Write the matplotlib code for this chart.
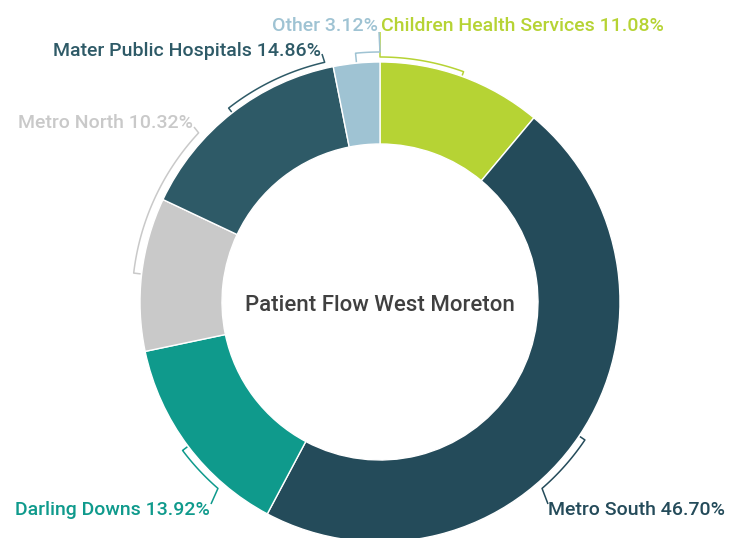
import numpy as np
import matplotlib
matplotlib.use("Agg")
import matplotlib.pyplot as plt

labels = ["Children Health Services", "Metro South", "Darling Downs",
          "Metro North", "Mater Public Hospitals", "Other"]
values = [11.08, 46.70, 13.92, 10.32, 14.86, 3.12]
colors = ["#b6d334", "#244b5a", "#0f9a8c", "#c9c9c9", "#2e5a67", "#9fc3d3"]
title = "Patient Flow West Moreton"

# layout (pixel-ish coordinates, y up)
W, H = 741, 538
cx, cy = 380, 236
R, r_in = 240, 158
# per label: bracket radius, label-end angle, connector end point, text baseline pos, ha
layout = [
    dict(rb=245, a_end=90,   conn=(380, 506), txt=(381, 507), ha="left"),
    dict(rb=247, a_end=-49,  conn=(548, 34),  txt=(548, 23),  ha="left"),
    dict(rb=247, a_end=-131, conn=(211, 34),  txt=(210, 23),  ha="right"),
    dict(rb=248, a_end=137,  conn=(194, 411), txt=(193, 410), ha="right"),
    dict(rb=246, a_end=103,  conn=(322, 484), txt=(321, 482), ha="right"),
    dict(rb=250, a_end=90,   conn=(379, 506), txt=(378, 507), ha="right"),
]

plt.rcParams["font.family"] = ["Roboto", "DejaVu Sans"]
fig = plt.figure(figsize=(W / 100, H / 100), dpi=100)
ax = fig.add_axes([0, 0, 1, 1])

ax.pie(values, colors=colors, startangle=90, counterclock=False,
       center=(cx, cy), radius=R, frame=True,
       wedgeprops=dict(width=R - r_in, edgecolor="white", linewidth=1.0))
ax.set_xlim(0, W)
ax.set_ylim(0, H)
ax.set_aspect("equal")
ax.axis("off")

ax.text(cx, 227, title, ha="center", va="baseline", fontsize=16,
        color="#404040", fontweight="medium")

starts = 90 - 3.6 * np.concatenate([[0], np.cumsum(values)[:-1]])
for lab, v, c, s, L in zip(labels, values, colors, starts, layout):
    mid = s - 3.6 * v / 2
    a_end = mid + ((L["a_end"] - mid + 180) % 360 - 180)
    rb = L["rb"]
    th = np.radians(np.linspace(mid, a_end, 60))
    xs = cx + rb * np.cos(th)
    ys = cy + rb * np.sin(th)
    tm = np.radians(mid)
    tx = [cx + (R + 1) * np.cos(tm)] + list(xs) + [L["conn"][0]]
    ty = [cy + (R + 1) * np.sin(tm)] + list(ys) + [L["conn"][1]]
    ax.plot(tx, ty, color=c, lw=1.1, solid_capstyle="butt")
    ax.text(L["txt"][0], L["txt"][1], f"{lab} {v:.2f}%", ha=L["ha"],
            va="baseline", fontsize=14, color=c, fontweight="medium")

fig.savefig("out.png", dpi=100)
